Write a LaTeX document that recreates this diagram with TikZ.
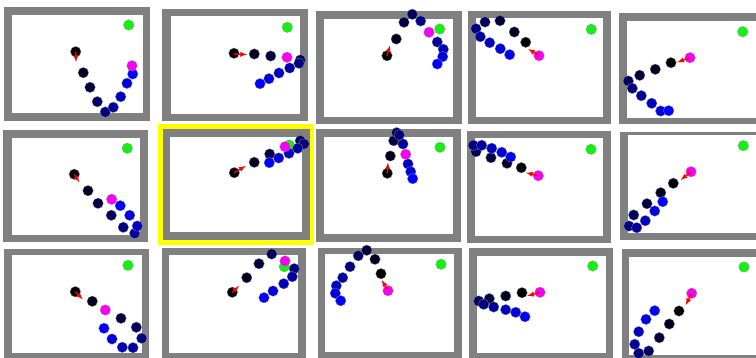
\documentclass[tikz,border=0pt]{standalone}
\usepackage{xcolor}
\usepackage{tikz}

\definecolor{goalgreen}{RGB}{20,240,20}
\definecolor{foodpink}{RGB}{245,0,245}
\definecolor{framegray}{RGB}{128,128,128}
\definecolor{pickyellow}{RGB}{255,255,0}

% body of the snake: head (black) first, tail (blue) last
\newcommand{\snakebody}[1]{%
  \foreach \px/\py [count=\k from 0] in {#1}{%
    \pgfmathsetmacro{\tone}{\k*12.5}%
    \fill[blue!\tone!black, ball] (\px,\py) circle (5.3pt);}}

\begin{document}
\begin{tikzpicture}[x=1pt, y=-1pt,
    frame/.style={fill=framegray},
    board/.style={fill=white},
    ball/.style={draw=black!40, line width=0.25pt},
    goal/.style={fill=goalgreen, ball},
    food/.style={fill=foodpink, ball},
    move/.style={-latex, red, line width=1.3pt},
  ]
  \useasboundingbox (0,0) rectangle (756,358);
  \fill[white] (0,0) rectangle (756,358);

  % Top row
  \fill[frame] (4,7) rectangle (150,121);
  \fill[board] (12,15) rectangle (143,113);
  \fill[goal] (128.7,25) circle (5.3pt);
  \snakebody{75.7/51.7, 83.3/72.7, 90/87.3, 97.3/101.7, 105.3/112, 113.3/107.3, 120.7/96.7, 127/83.3, 132.7/74}
  \fill[food] (132,65.7) circle (5.3pt);
  \draw[move] (75.7,51.7) -- (76,62);

  \fill[frame] (162,9) rectangle (308,121);
  \fill[board] (171,16) rectangle (300,114);
  \fill[goal] (287.3,27.3) circle (5.3pt);
  \snakebody{234/53.3, 254.3/54, 270.7/56, 300.3/60, 299/63.3, 289.7/68, 279/73, 269/78.7, 260/83.7}
  \fill[food] (287,57.3) circle (5.3pt);
  \draw[move] (234,54) -- (247,54.5);

  \fill[frame] (316,11) rectangle (462,124);
  \fill[board] (324,19) rectangle (453,117);
  \fill[goal] (439.7,29) circle (5.3pt);
  \snakebody{387/55.7, 396.3/39, 404/22.3, 412.3/14.3, 420.7/21, 437.3/42, 443.3/49.3, 442.7/56.7, 437.3/64}
  \fill[food] (429,32.3) circle (5.3pt);
  \draw[move] (387,55.7) -- (390,45.5);

  \fill[frame] (468,11) rectangle (611,124);
  \fill[board] (476,18) rectangle (603,117);
  \fill[goal] (591.3,29.3) circle (5.3pt);
  \snakebody{525.7/42.3, 514.3/32, 500/20.7, 485/22, 476/28.7, 480.3/36.7, 489.7/42.7, 500.3/48.7, 509.7/54.7}
  \fill[food] (539,55.7) circle (5.3pt);
  \draw[move] (539,55.7) -- (528.3,49);

  \fill[frame] (619,13) rectangle (770,124);
  \fill[board] (627,21) rectangle (770,118);
  \fill[goal] (742.7,31.7) circle (5.3pt);
  \snakebody{671/62.7, 655.3/69.3, 639.7/75.3, 628.3/81, 632.3/88.3, 641.3/95.7, 651.7/103.3, 660.7/111, 668.7/110.7}
  \fill[food] (690,57.7) circle (5.3pt);
  \draw[move] (690,57.7) -- (677.3,62.3);

  % Middle row
  \fill[frame] (3,130) rectangle (148,242);
  \fill[board] (12,138) rectangle (140,235);
  \fill[goal] (127.3,148.3) circle (5.3pt);
  \snakebody{74.3/174.3, 88/190.7, 98/203.3, 111.3/215.3, 123.3/227.3, 134.7/233.3, 137.3/226, 129.7/215.3, 120.3/205.7}
  \fill[food] (111.7,199.3) circle (5.3pt);
  \draw[move] (74.3,174.3) -- (79.3,182.3);

  % picked panel
  \fill[pickyellow] (158,124) rectangle (314,245);
  \fill[frame] (163,129) rectangle (310,240);
  \fill[board] (170,137) rectangle (302,232);
  \fill[goal] (289.3,145) circle (5.3pt);
  \snakebody{234.3/172.7, 254.3/162.3, 269.7/154, 300.3/140.7, 304/144, 297.7/148.3, 289/153.3, 278.7/158, 269.3/162.7}
  \fill[food] (285,146.7) circle (5.3pt);
  \draw[move] (234.3,172.7) -- (245.7,166);

  \fill[frame] (316,129) rectangle (461,242);
  \fill[board] (324,137) rectangle (453,234);
  \fill[goal] (440,147.3) circle (5.3pt);
  \snakebody{387.3/173.3, 390.3/156, 393.7/140.7, 396.7/132.7, 399.3/135, 403/144, 408/164, 410.7/171.7, 412.7/178.7}
  \fill[food] (405.7,154.3) circle (5.3pt);
  \draw[move] (387.3,173.3) -- (388,162.5);

  \fill[frame] (467,131) rectangle (611,243);
  \fill[board] (475,138) rectangle (603,236);
  \fill[goal] (591,149.3) circle (5.3pt);
  \snakebody{521.3/167.7, 507/163.3, 491/157.7, 476/151.7, 473.3/145.3, 481.7/145.3, 491.7/148.3, 501.7/152.3, 510.7/157}
  \fill[food] (538.3,175.7) circle (5.3pt);
  \draw[move] (538.3,175.7) -- (526,172.7);

  \fill[frame] (620,132) rectangle (770,240);
  \fill[board] (628,135) rectangle (770,233);
  \fill[goal] (743.3,145.7) circle (5.3pt);
  \snakebody{673.3/183.3, 660.7/192.7, 647/203.7, 633.7/215, 629/226, 636.7/227.7, 645.3/220.7, 654.7/211, 662.7/201.7}
  \fill[food] (691,171.7) circle (5.3pt);
  \draw[move] (691,171.7) -- (680.7,180);

  % Bottom row
  \fill[frame] (4,249) rectangle (149,362);
  \fill[board] (12,255) rectangle (142,353);
  \fill[goal] (128,265.3) circle (5.3pt);
  \snakebody{75.3/291.7, 92.3/301.3, 121/318.3, 136.3/327.3, 141.7/338.3, 133/347.7, 122.3/347.3, 112/339, 104/328.3}
  \fill[food] (105.3,310) circle (5.3pt);
  \draw[move] (75.3,291.7) -- (82.7,299.3);

  \fill[frame] (162,248) rectangle (306,362);
  \fill[board] (169,255) rectangle (298,353);
  \fill[goal] (284.3,266.7) circle (5.3pt);
  \snakebody{232.3/292.3, 246.7/277.7, 259/263.7, 271.7/254, 294.3/268.7, 292.3/276.7, 283.7/283.7, 273/291, 264/297.7}
  \fill[food] (285,261) circle (5.3pt);
  \draw[move] (232.3,292.3) -- (239,286);

  \fill[frame] (318,248) rectangle (462,362);
  \fill[board] (325,254) rectangle (454,352);
  \fill[goal] (441,264.3) circle (5.3pt);
  \snakebody{381/273.7, 375/259.3, 366.7/250.3, 358.3/255.7, 350/266.7, 342.7/277.7, 336.3/285.7, 335.3/293.3, 340.7/300.7}
  \fill[food] (388,290.7) circle (5.3pt);
  \draw[move] (388,290.7) -- (381.7,280);

  \fill[frame] (469,248) rectangle (613,362);
  \fill[board] (477,256) rectangle (606,353);
  \fill[goal] (592.7,266) circle (5.3pt);
  \snakebody{522/292.7, 505.7/296, 489.3/298.7, 478.7/301, 483.7/304.3, 493.7/307, 505.7/309.7, 515.7/312.3, 525/316.7}
  \fill[food] (540,292.3) circle (5.3pt);
  \draw[move] (540,292.3) -- (527.3,296);

  \fill[frame] (622,249) rectangle (770,362);
  \fill[board] (629,257) rectangle (770,355);
  \fill[goal] (744,267) circle (5.3pt);
  \snakebody{679/311, 669.3/324, 659.3/337.7, 648.7/351, 638.7/353.3, 634.7/344.3, 638.7/331.7, 646/319.3, 654.7/310.7}
  \fill[food] (691.7,293.3) circle (5.3pt);
  \draw[move] (691.7,293.3) -- (685.7,305);

\end{tikzpicture}
\end{document}
